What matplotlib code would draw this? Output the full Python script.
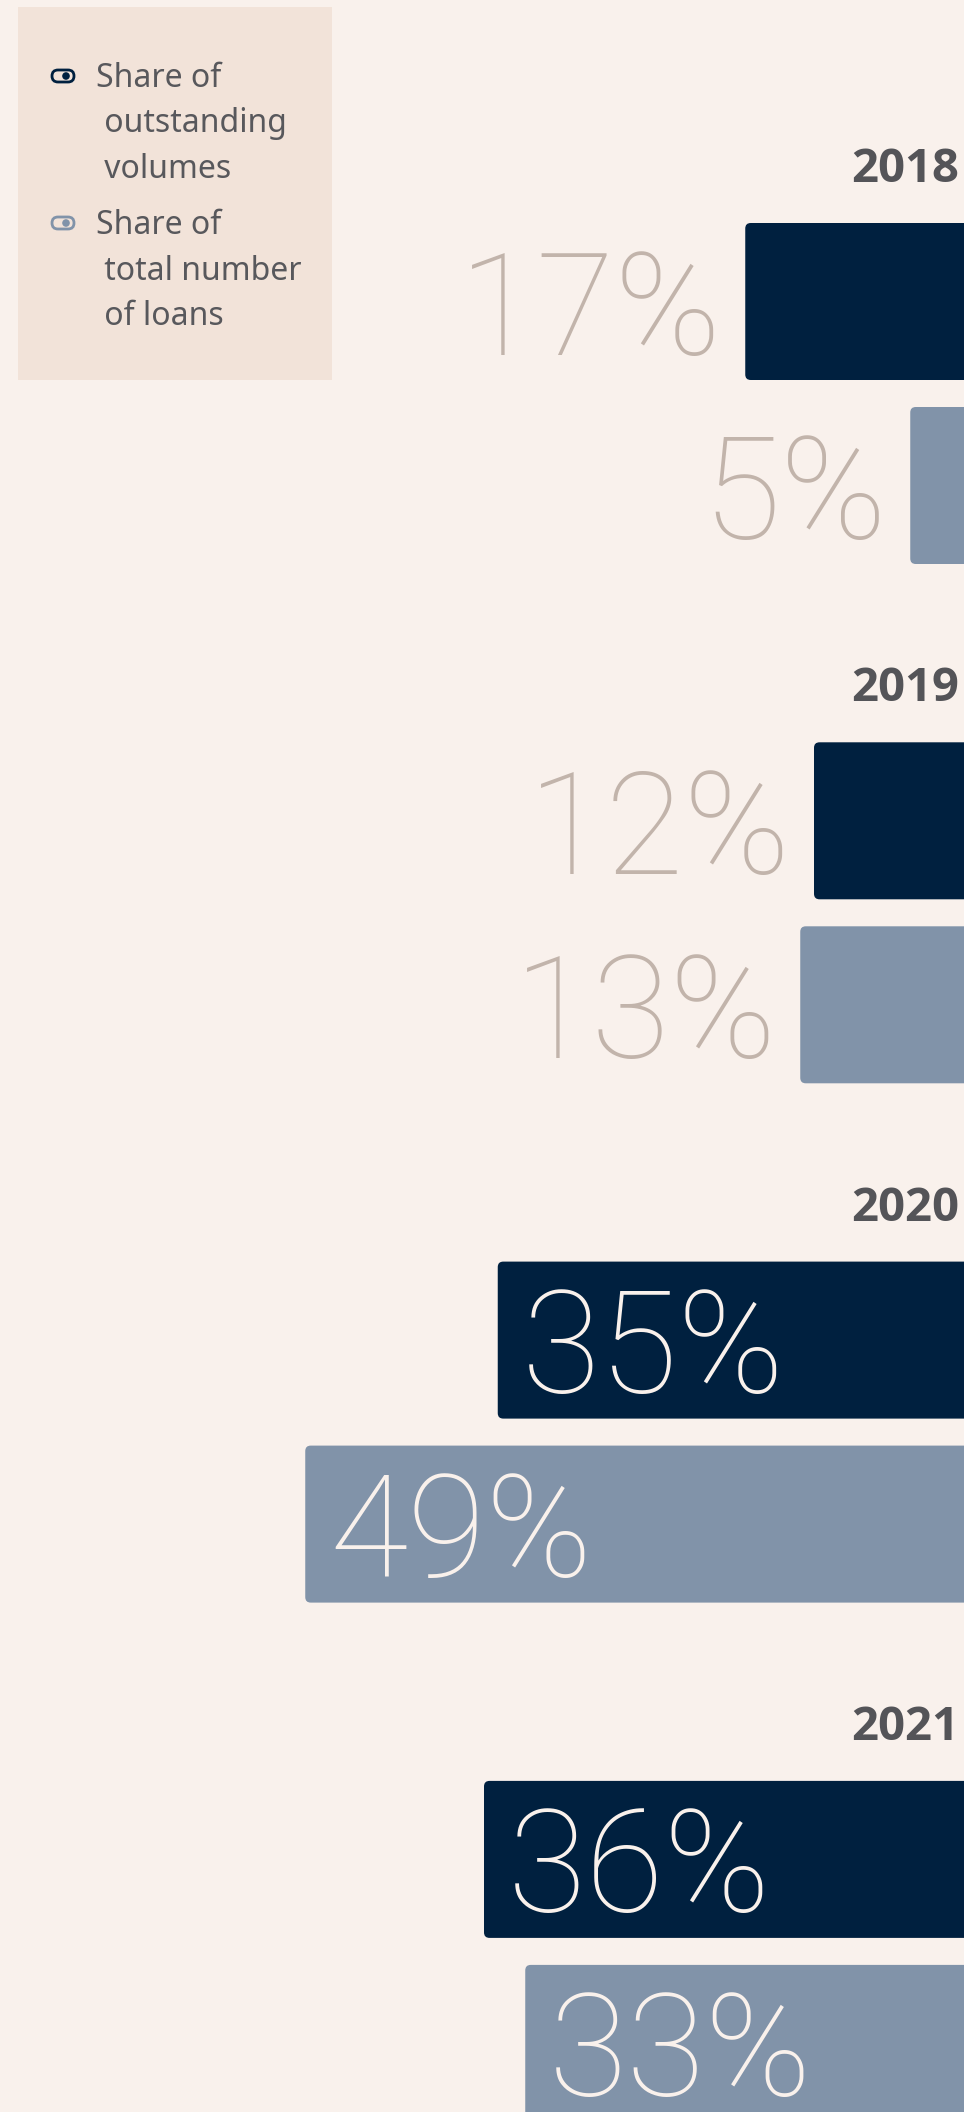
import matplotlib
matplotlib.use("Agg")
import matplotlib.pyplot as plt
from matplotlib.patches import FancyBboxPatch, Circle

years = ["2018", "2019", "2020", "2021"]
share_volumes = [17, 12, 35, 36]
share_loans = [5, 13, 49, 33]
series_names = ["Share of\n outstanding\n volumes", "Share of\n total number\n of loans"]

BG = "#f9f1ec"
LEG_BG = "#f2e3d9"
NAVY = "#00203f"
STEEL = "#8193a9"
OUT_TXT = "#c2b4ab"
YEAR_TXT = "#545458"

W, H = 964, 2112
fig = plt.figure(figsize=(W / 100, H / 100), dpi=100)
fig.patch.set_facecolor(BG)

PX_PER_PCT = 13.75
ANCHOR = 979.0
ax = fig.add_axes([0, 0, 1, 1])
ax.set_facecolor(BG)
ax.set_xlim(ANCHOR / PX_PER_PCT, (ANCHOR - W) / PX_PER_PCT)
ax.set_ylim(H, 0)
ax.axis("off")

GROUP0 = 301.5
GROUP_STEP = 519.3
BAR_H = 157
BAR_GAP = 184
centers1 = [GROUP0 + i * GROUP_STEP for i in range(len(years))]
centers2 = [c + BAR_GAP for c in centers1]

pct_font = dict(family=["Roboto", "DejaVu Sans"], fontweight="light", fontsize=103)
PAD_OUT = 23 / PX_PER_PCT
PAD_IN = 24 / PX_PER_PCT
CAP_HALF = 53


def draw(centers, values, color):
    bars = ax.barh(centers, values, height=BAR_H, color=color, left=0)
    for b, v, c in zip(bars, values, centers):
        x, y = b.get_x(), b.get_y()
        w, h = b.get_width(), b.get_height()
        b.set_visible(False)
        p = FancyBboxPatch((x, y), w, h,
                           boxstyle="round,pad=0,rounding_size=0.4",
                           mutation_aspect=PX_PER_PCT,
                           facecolor=color, edgecolor="none", clip_on=True)
        ax.add_patch(p)
        if v > 20:
            ax.text(v - PAD_IN, c + CAP_HALF, f"{v}%", ha="left", va="baseline",
                    color=BG, **pct_font)
        else:
            ax.text(v + PAD_OUT, c + CAP_HALF, f"{v}%", ha="right", va="baseline",
                    color=OUT_TXT, **pct_font)


draw(centers1, share_volumes, NAVY)
draw(centers2, share_loans, STEEL)

ov = fig.add_axes([0, 0, 1, 1])
ov.set_xlim(0, W)
ov.set_ylim(H, 0)
ov.axis("off")
ov.patch.set_alpha(0)

for yr, c in zip(years, centers1):
    ov.text(959, c - 136.5 + 17, yr, ha="right", va="baseline", fontsize=34,
            fontweight="bold", color=YEAR_TXT, family=["Open Sans", "DejaVu Sans"])

ov.add_patch(FancyBboxPatch((18, 7), 314, 373, boxstyle="square,pad=0",
                            facecolor=LEG_BG, edgecolor="none"))
leg_font = dict(family=["Noto Sans", "DejaVu Sans"], fontsize=23, color="#58585c")
LINE_STEP = 45.5
for name, col, ymid in zip(series_names, [NAVY, STEEL], [76, 223]):
    ov.add_patch(FancyBboxPatch((52, ymid - 6), 22, 12,
                                boxstyle="round,pad=0,rounding_size=6",
                                facecolor="none", edgecolor=col, linewidth=2))
    ov.add_patch(Circle((66, ymid), 3.8, facecolor=col, edgecolor="none"))
    for k, line in enumerate(name.split("\n")):
        ov.text(96, ymid + 11 + k * LINE_STEP, line, ha="left", va="baseline", **leg_font)

fig.savefig("out.png", dpi=100, facecolor=BG)
